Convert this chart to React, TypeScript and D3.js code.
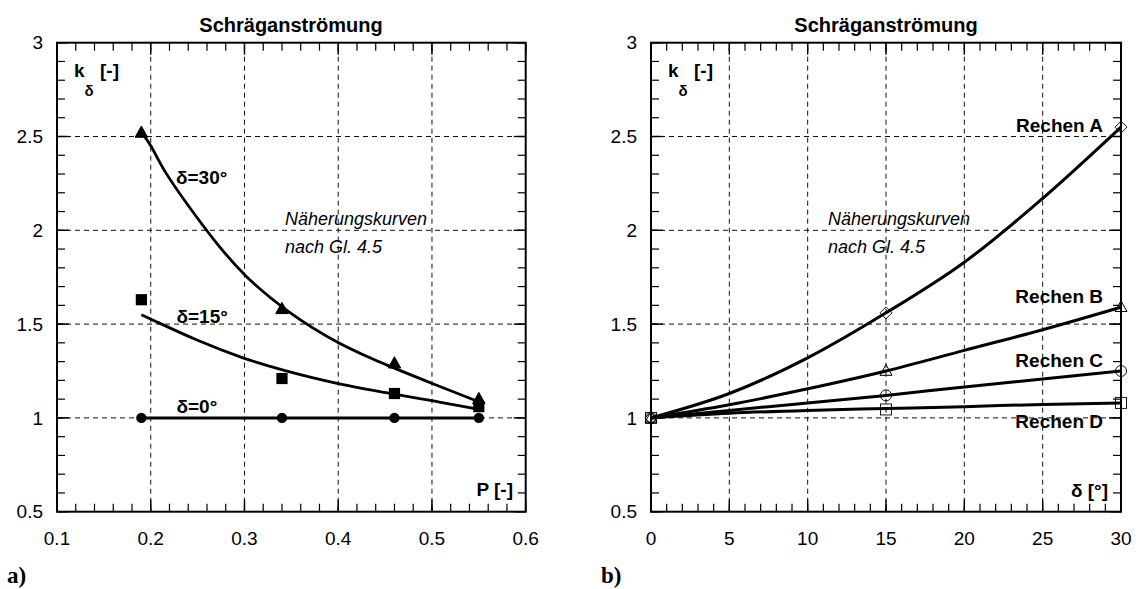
import React from 'react';
import * as d3 from 'd3';

const W = 1136;
const H = 589;

// ---------- Panel a) data ----------
const pMeasured = [0.19, 0.34, 0.46, 0.55];
const kDelta0 = [1.0, 1.0, 1.0, 1.0];
const kDelta15 = [1.63, 1.21, 1.13, 1.06];
const kDelta30 = [2.52, 1.58, 1.29, 1.1];

const fit15P = [0.19, 0.2, 0.25, 0.3, 0.34, 0.4, 0.46, 0.5, 0.55];
const fit15K = [1.55, 1.527, 1.41, 1.314, 1.255, 1.179, 1.127, 1.092, 1.046];
const fit30P = [0.19, 0.2, 0.213, 0.242, 0.267, 0.3, 0.345, 0.4, 0.46, 0.5, 0.55];
const fit30K = [2.52, 2.46, 2.321, 2.117, 1.948, 1.753, 1.566, 1.392, 1.264, 1.184, 1.086];

const aXTicks = [0.1, 0.2, 0.3, 0.4, 0.5, 0.6];
const yTicks = [0.5, 1, 1.5, 2, 2.5, 3];

// ---------- Panel b) data ----------
const deltaMeasured = [0, 15, 30];
const kRechenA = [1.0, 1.56, 2.55];
const kRechenB = [1.0, 1.25, 1.59];
const kRechenC = [1.0, 1.12, 1.25];
const kRechenD = [1.0, 1.045, 1.08];

const fitDelta = [0, 5, 10, 15, 20, 25, 30];
const fitA = [1.0, 1.13, 1.32, 1.56, 1.83, 2.17, 2.55];
const fitB = [1.0, 1.07, 1.155, 1.25, 1.36, 1.47, 1.59];
const fitC = [1.0, 1.04, 1.08, 1.12, 1.165, 1.207, 1.25];
const fitD = [1.0, 1.025, 1.04, 1.05, 1.06, 1.072, 1.08];

const bXTicks = [0, 5, 10, 15, 20, 25, 30];

const SANS = 'Liberation Sans, Arial, Helvetica, sans-serif';
const SERIF = 'Liberation Serif, Times New Roman, serif';

type Sc = d3.ScaleLinear<number, number>;

function Frame({ x, y, xMajor, xMinorStep, yMinorStep }: { x: Sc; y: Sc; xMajor: number[]; xMinorStep: number; yMinorStep: number }) {
  const [x0, x1] = x.range();
  const [y0, y1] = y.range(); // y0 bottom, y1 top
  const xd = x.domain();
  const yd = y.domain();
  const xMinor = d3.range(xd[0], xd[1] + 1e-9, xMinorStep);
  const yMinor = d3.range(yd[0], yd[1] + 1e-9, yMinorStep);
  const minorLen = 8;
  const majorLen = 12;
  const interiorX = xMajor.slice(1, -1);
  const interiorY = yTicks.slice(1, -1);
  return (
    <g>
      {interiorX.map((v, i) => (
        <line key={'gx' + i} x1={x(v)} x2={x(v)} y1={y0} y2={y1} stroke="#111" strokeWidth={1} strokeDasharray="5,4" />
      ))}
      {interiorY.map((v, i) => (
        <line key={'gy' + i} x1={x0} x2={x1} y1={y(v)} y2={y(v)} stroke="#111" strokeWidth={1} strokeDasharray="5,4" />
      ))}
      {xMinor.map((v, i) => (
        <g key={'mx' + i}>
          <line x1={x(v)} x2={x(v)} y1={y0} y2={y0 - minorLen} stroke="#000" strokeWidth={1.2} />
          <line x1={x(v)} x2={x(v)} y1={y1} y2={y1 + minorLen} stroke="#000" strokeWidth={1.2} />
        </g>
      ))}
      {yMinor.map((v, i) => (
        <g key={'my' + i}>
          <line x1={x0} x2={x0 + minorLen} y1={y(v)} y2={y(v)} stroke="#000" strokeWidth={1.2} />
          <line x1={x1} x2={x1 - minorLen} y1={y(v)} y2={y(v)} stroke="#000" strokeWidth={1.2} />
        </g>
      ))}
      {xMajor.map((v, i) => (
        <g key={'Mx' + i}>
          <line x1={x(v)} x2={x(v)} y1={y0} y2={y0 - majorLen} stroke="#000" strokeWidth={1.4} />
          <line x1={x(v)} x2={x(v)} y1={y1} y2={y1 + majorLen} stroke="#000" strokeWidth={1.4} />
        </g>
      ))}
      {yTicks.map((v, i) => (
        <g key={'My' + i}>
          <line x1={x0} x2={x0 + majorLen} y1={y(v)} y2={y(v)} stroke="#000" strokeWidth={1.4} />
          <line x1={x1} x2={x1 - majorLen} y1={y(v)} y2={y(v)} stroke="#000" strokeWidth={1.4} />
        </g>
      ))}
      <rect x={x0} y={y1} width={x1 - x0} height={y0 - y1} fill="none" stroke="#000" strokeWidth={2} />
      {xMajor.map((v, i) => (
        <text key={'lx' + i} x={x(v)} y={y0 + 33} textAnchor="middle" fontFamily={SANS} fontSize={19}>
          {d3.format('~g')(v)}
        </text>
      ))}
      {yTicks.map((v, i) => (
        <text key={'ly' + i} x={x0 - 14} y={y(v)} dy="0.35em" textAnchor="end" fontFamily={SANS} fontSize={19}>
          {d3.format('~g')(v)}
        </text>
      ))}
    </g>
  );
}

function Tri({ cx, cy, s, fill }: { cx: number; cy: number; s: number; fill: string }) {
  const h = s * 0.9;
  return (
    <path
      d={`M${cx},${cy - h * 0.6}L${cx + s / 2},${cy + h * 0.4}L${cx - s / 2},${cy + h * 0.4}Z`}
      fill={fill}
      stroke="#000"
      strokeWidth={1}
    />
  );
}

export default function App() {
  const yA = d3.scaleLinear().domain([0.5, 3]).range([511.7, 42.7]);
  const xA = d3.scaleLinear().domain([0.1, 0.6]).range([57, 525.7]);
  const xB = d3.scaleLinear().domain([0, 30]).range([651, 1121]);
  const yB = yA.copy();

  const lineA = d3
    .line<[number, number]>()
    .x((d) => xA(d[0]))
    .y((d) => yA(d[1]))
    .curve(d3.curveBasis);
  const lineB = d3
    .line<[number, number]>()
    .x((d) => xB(d[0]))
    .y((d) => yB(d[1]))
    .curve(d3.curveMonotoneX);

  const zip = (a: number[], b: number[]) => a.map((v, i) => [v, b[i]] as [number, number]);

  const boldText = { fontFamily: SANS, fontWeight: 700, fontSize: 19 } as const;

  return (
    <svg width={W} height={H} style={{ position: 'absolute', left: 0, top: 0, background: '#fff' }}>
      <rect x={0} y={0} width={W} height={H} fill="#fff" />
      {/* ---------- panel a ---------- */}
      <text x={291} y={32} textAnchor="middle" fontFamily={SANS} fontWeight={700} fontSize={20}>
        Schräganströmung
      </text>
      <Frame x={xA} y={yA} xMajor={aXTicks} xMinorStep={0.02} yMinorStep={0.1} />
      <path d={lineA(zip([pMeasured[0], pMeasured[3]], [kDelta0[0], kDelta0[3]])) || ''} fill="none" stroke="#000" strokeWidth={3} />
      <path d={lineA(zip(fit15P, fit15K)) || ''} fill="none" stroke="#000" strokeWidth={2.8} />
      <path d={lineA(zip(fit30P, fit30K)) || ''} fill="none" stroke="#000" strokeWidth={2.8} />
      {pMeasured.map((p, i) => (
        <circle key={'c' + i} cx={xA(p)} cy={yA(kDelta0[i])} r={5.2} fill="#000" />
      ))}
      {pMeasured.map((p, i) => (
        <rect key={'s' + i} x={xA(p) - 5.6} y={yA(kDelta15[i]) - 5.6} width={11.2} height={11.2} fill="#000" />
      ))}
      {pMeasured.map((p, i) => (
        <Tri key={'t' + i} cx={xA(p)} cy={yA(kDelta30[i])} s={12.5} fill="#000" />
      ))}
      <text x={176} y={184} {...boldText}>δ=30°</text>
      <text x={176.5} y={323} {...boldText}>δ=15°</text>
      <text x={176.5} y={413} {...boldText}>δ=0°</text>
      <text x={74} y={77} {...boldText}>k</text>
      <text x={84.5} y={96} fontFamily={SANS} fontWeight={700} fontSize={15}>δ</text>
      <text x={100} y={77} {...boldText}>[-]</text>
      <text x={285} y={225} fontFamily={SANS} fontStyle="italic" fontSize={18}>Näherungskurven</text>
      <text x={285} y={253} fontFamily={SANS} fontStyle="italic" fontSize={18}>nach Gl. 4.5</text>
      <text x={513} y={496} textAnchor="end" {...boldText}>P [-]</text>
      <text x={7} y={583} fontFamily={SERIF} fontWeight={700} fontSize={23}>a)</text>

      {/* ---------- panel b ---------- */}
      <text x={886} y={32} textAnchor="middle" fontFamily={SANS} fontWeight={700} fontSize={20}>
        Schräganströmung
      </text>
      <Frame x={xB} y={yB} xMajor={bXTicks} xMinorStep={1} yMinorStep={0.1} />
      <path d={lineB(zip(fitDelta, fitA)) || ''} fill="none" stroke="#000" strokeWidth={3} />
      <path d={lineB(zip(fitDelta, fitB)) || ''} fill="none" stroke="#000" strokeWidth={3} />
      <path d={lineB(zip(fitDelta, fitC)) || ''} fill="none" stroke="#000" strokeWidth={3} />
      <path d={lineB(zip(fitDelta, fitD)) || ''} fill="none" stroke="#000" strokeWidth={3} />
      {deltaMeasured.map((d, i) => {
        const cx = xB(d);
        const cy = yB(kRechenA[i]);
        const r = 6;
        return <path key={'dA' + i} d={`M${cx},${cy - r}L${cx + r},${cy}L${cx},${cy + r}L${cx - r},${cy}Z`} fill="none" stroke="#000" strokeWidth={0.9} />;
      })}
      {deltaMeasured.map((d, i) => (
        <Tri key={'tB' + i} cx={xB(d)} cy={yB(kRechenB[i])} s={12} fill="none" />
      ))}
      {deltaMeasured.map((d, i) => (
        <circle key={'cC' + i} cx={xB(d)} cy={yB(kRechenC[i])} r={5.5} fill="none" stroke="#000" strokeWidth={0.9} />
      ))}
      {deltaMeasured.map((d, i) => (
        <rect key={'sD' + i} x={xB(d) - 5.5} y={yB(kRechenD[i]) - 5.5} width={11} height={11} fill="none" stroke="#000" strokeWidth={0.9} />
      ))}
      <text x={1103} y={132} textAnchor="end" {...boldText}>Rechen A</text>
      <text x={1103} y={303} textAnchor="end" {...boldText}>Rechen B</text>
      <text x={1103} y={367} textAnchor="end" {...boldText}>Rechen C</text>
      <text x={1103} y={428} textAnchor="end" {...boldText}>Rechen D</text>
      <text x={668} y={77} {...boldText}>k</text>
      <text x={678.5} y={96} fontFamily={SANS} fontWeight={700} fontSize={15}>δ</text>
      <text x={694} y={77} {...boldText}>[-]</text>
      <text x={828} y={225} fontFamily={SANS} fontStyle="italic" fontSize={18}>Näherungskurven</text>
      <text x={828} y={253} fontFamily={SANS} fontStyle="italic" fontSize={18}>nach Gl. 4.5</text>
      <text x={1108} y={497} textAnchor="end" {...boldText}>δ [°]</text>
      <text x={601} y={583} fontFamily={SERIF} fontWeight={700} fontSize={23}>b)</text>
    </svg>
  );
}
